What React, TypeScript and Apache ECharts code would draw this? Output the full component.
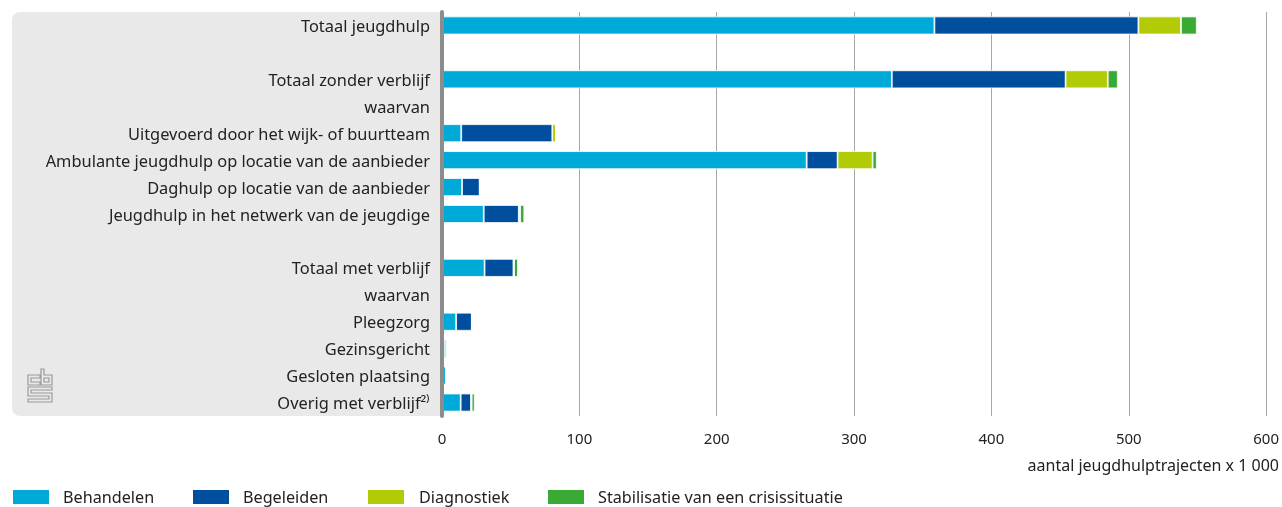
import React, { useEffect, useRef } from "react";
import * as echarts from "echarts";

const categories = [
  "Totaal jeugdhulp",
  " ",
  "Totaal zonder verblijf",
  "waarvan",
  "Uitgevoerd door het wijk- of buurtteam",
  "Ambulante jeugdhulp op locatie van de aanbieder",
  "Daghulp op locatie van de aanbieder",
  "Jeugdhulp in het netwerk van de jeugdige",
  "  ",
  "Totaal met verblijf",
  "waarvan ",
  "Pleegzorg",
  "Gezinsgericht",
  "Gesloten plaatsing",
  "Overig met verblijf²⁾",
];

const seriesNames = ["Behandelen", "Begeleiden", "Diagnostiek", "Stabilisatie van een crisissituatie"];

const behandelen = [358.5, null, 327.5, null, 14, 265.5, 14.6, 30.4, null, 31, null, 10.3, 2.2, 2.8, 13.6];
const begeleiden = [148.5, null, 126.5, null, 66.3, 22.5, 12.8, 25.5, null, 21, null, 11.4, 1.5, 0, 7.5];
const diagnostiek = [31, null, 30.7, null, 2.7, 25.5, 0, 1, null, 0.5, null, 0, 0, 0, 0.5];
const stabilisatie = [11.5, null, 7.3, null, 0, 3, 0, 3, null, 2.8, null, 0, 0, 0, 2.2];

const xTicks = [0, 100, 200, 300, 400, 500, 600];

const colors = ["#00aad8", "#004f9f", "#b1cb06", "#3aaa35"];

const logoPath =
  "M12 6 H0 V16 H12 V13 H3 V9 H12 Z " +
  "M13 0 H16 V6 H24 V16 H13 Z M16 9 H21 V13 H16 Z " +
  "M0 18 H24 V21 H3 V24 H24 V33 H0 V30 H21 V27 H0 Z";

echarts.graphic.registerShape("cbslogo", echarts.graphic.extendPath(logoPath as any, {}) as any);

export default function App() {
  const ref = useRef<HTMLDivElement>(null);
  useEffect(() => {
    if (!ref.current) return;
    const chart = echarts.init(ref.current, undefined, { renderer: "svg" });
    const font = "Noto Sans";
    const dataSets = [behandelen, begeleiden, diagnostiek, stabilisatie];
    const legendX = [11, 191, 366, 546];
    const legendTextPad = [8, 8, 9, 8];
    chart.setOption({
      animation: false,
      textStyle: { fontFamily: font },
      grid: { left: 442, right: 13, top: 12, bottom: 91, containLabel: false },
      xAxis: {
        type: "value",
        min: 0,
        max: 600,
        interval: 100,
        axisLine: { show: false },
        axisTick: { show: false },
        splitLine: { show: true, lineStyle: { color: "#a8a8a8", width: 1 } },
        axisLabel: {
          color: "#222",
          fontSize: 15,
          fontFamily: font,
          margin: 14,
          formatter: (v: number) => (xTicks.includes(v) ? String(v) : ""),
        },
      },
      yAxis: {
        type: "category",
        inverse: true,
        data: categories,
        axisTick: { show: false },
        axisLine: { show: true, lineStyle: { color: "#8c8c8c", width: 4 } },
        axisLabel: {
          color: "#222",
          fontSize: 16.4,
          fontFamily: font,
          margin: 12,
          formatter: (v: string) => v.trim(),
        },
        z: 5,
      },
      legend: seriesNames.map((n, i) => ({
        data: [n],
        left: legendX[i],
        top: 488,
        padding: 0,
        itemWidth: 38,
        itemHeight: 16,
        icon: "rect",
        selectedMode: false,
        textStyle: { color: "#222", fontSize: 16.2, fontFamily: font, padding: [0, 0, 0, legendTextPad[i]] },
      })),
      graphic: [
        {
          type: "rect",
          shape: { x: 12, y: 12, width: 430, height: 404, r: [8, 0, 0, 8] },
          style: { fill: "#e9e9e9" },
          z: -10,
          silent: true,
        },
        {
          type: "cbslogo",
          x: 28,
          y: 369,
          scaleX: 1,
          scaleY: 1,
          style: { fill: "none", stroke: "#9a9a9a", lineWidth: 1.2 },
          z: 1,
          silent: true,
        },
        {
          type: "text",
          right: 3,
          top: 457,
          style: {
            text: "aantal jeugdhulptrajecten x 1 000",
            fill: "#222",
            font: `16px "${font}"`,
          },
        },
      ],
      series: seriesNames.map((n, i) => ({
        name: n,
        type: "bar",
        stack: "total",
        barWidth: 18,
        data: dataSets[i],
        itemStyle: { color: colors[i], borderColor: "#ffffff", borderWidth: 0.8 },
        emphasis: { disabled: true },
      })),
    });
    return () => chart.dispose();
  }, []);
  return (
    <div
      ref={ref}
      style={{ position: "fixed", left: 0, top: 0, width: 1282, height: 507 }}
    />
  );
}
